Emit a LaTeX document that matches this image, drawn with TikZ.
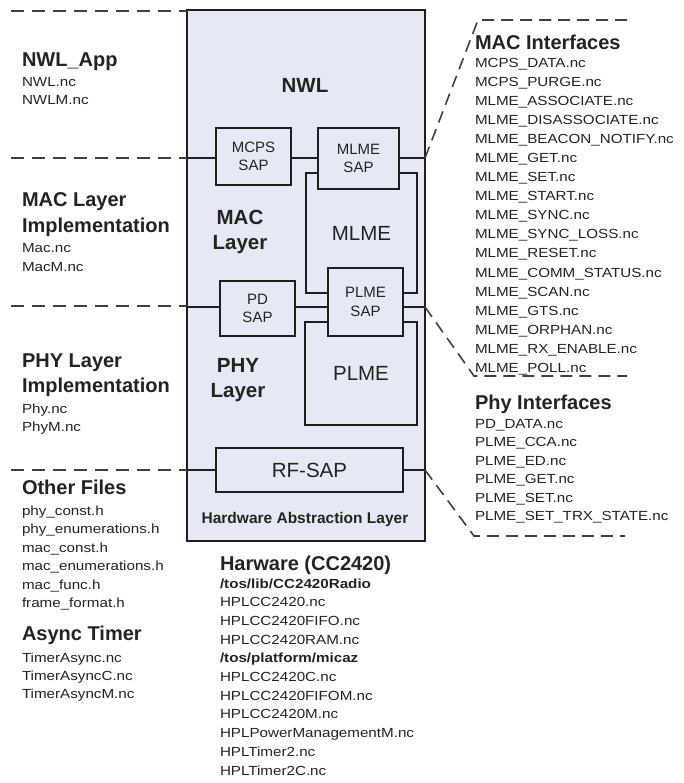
\documentclass[tikz,border=0pt]{standalone}
\usepackage{fontspec}
\setmainfont{Liberation Sans}
\newfontfamily\listfont[FakeStretch=1.15]{Liberation Sans}
\definecolor{boxfill}{RGB}{228,233,244}
\definecolor{ink}{RGB}{30,30,30}
\definecolor{txt}{RGB}{35,35,35}
\begin{document}
\begin{tikzpicture}[x=1pt,y=-1pt,
  every node/.style={inner sep=0pt, outer sep=0pt, text=txt},
  mainbox/.style={draw=ink, line width=2.2pt, fill=boxfill},
  inbox/.style={draw=ink, line width=1.5pt, fill=boxfill, align=center},
  sapfont/.style={font=\fontsize{15}{18.5}\selectfont},
  bigfont/.style={font=\fontsize{20.5}{25}\selectfont},
  bigbold/.style={font=\bfseries\fontsize{20.5}{25}\selectfont, align=center},
  hd/.style={anchor=base west, font=\bfseries\fontsize{20}{24}\selectfont},
  fl/.style={anchor=base west, font=\listfont\fontsize{13.2}{16}\selectfont},
  flb/.style={anchor=base west, font=\listfont\bfseries\fontsize{13.2}{16}\selectfont},
  sepline/.style={draw=ink!85, line width=2pt, dash pattern=on 13pt off 8pt},
  brk/.style={draw=ink!85, line width=1.6pt, dash pattern=on 12pt off 7pt},
  link/.style={draw=ink, line width=2pt}]

\useasboundingbox (0,0) rectangle (683,783);

% row coordinates
\coordinate (r1) at (0,158);
\coordinate (r2) at (0,307);
\coordinate (r3) at (0,470);
\coordinate (d0) at (11,11);
\coordinate (d1) at (11,158);
\coordinate (d2) at (11,306);
\coordinate (d3) at (11,470);
\coordinate (b1) at (478,20);
\coordinate (b1e) at (630,20);
\coordinate (b2) at (474,376);
\coordinate (b2e) at (627,376);
\coordinate (b3) at (474,536);
\coordinate (b3e) at (625,536);

% main box
\node[mainbox, minimum width=238pt, minimum height=531pt] (main) at (306,275.5) {};

% left dashed separators
\draw[sepline] (d0) -- (main.west |- d0);
\draw[sepline] (d1) -- (main.west |- d1);
\draw[sepline] (d2) -- (main.west |- d2);
\draw[sepline] (d3) -- (main.west |- d3);

% inner boxes
\node[inbox, bigfont, minimum width=111pt, minimum height=120pt] (mlme) at (361.5,233) {MLME};
\node[inbox, bigfont, minimum width=112pt, minimum height=103pt] (plme) at (361,373.5) {PLME};
\node[inbox, sapfont, minimum width=75pt, minimum height=57pt] (mcps) at (253.5,156.5) {MCPS\\SAP};
\node[inbox, sapfont, minimum width=81pt, minimum height=61pt] (mlmesap) at (358.5,158.5) {MLME\\SAP};
\node[inbox, sapfont, minimum width=75pt, minimum height=55pt] (pd) at (257.5,308.5) {PD\\SAP};
\node[inbox, sapfont, minimum width=75pt, minimum height=68pt] (plmesap) at (365.5,302) {PLME\\SAP};
\node[inbox, bigfont, minimum width=187pt, minimum height=44pt] (rf) at (309.5,470) {RF-SAP};

% solid links
\draw[link] (main.west |- r1) -- (mcps.west |- r1);
\draw[link] (mcps.east |- r1) -- (mlmesap.west |- r1);
\draw[link] (mlmesap.east |- r1) -- (main.east |- r1);
\draw[link] (main.west |- r2) -- (pd.west |- r2);
\draw[link] (pd.east |- r2) -- (plmesap.west |- r2);
\draw[link] (plmesap.east |- r2) -- (main.east |- r2);
\draw[link] (main.west |- r3) -- (rf.west |- r3);
\draw[link] (rf.east |- r3) -- (main.east |- r3);

% right brackets
\draw[brk] (main.east |- r1) -- (b1) -- (b1e);
\draw[brk] (main.east |- r2) -- (b2) -- (b2e);
\draw[brk] (main.east |- r3) -- (b3) -- (b3e);

% central labels
\node[bigbold] (nwl) at (305,85) {NWL};
\node[bigbold] (maclayer) at (240,232) {MAC\\Layer};
\node[bigbold] (phylayer) at (238,380) {PHY\\Layer};
\node[font=\bfseries\fontsize{15.5}{18}\selectfont] (hal) at (305,519) {Hardware Abstraction Layer};

% left column
\node[hd] (h1) at (22,67) {NWL\_App};
\node[fl] (h1a) at (22,87) {NWL.nc};
\node[fl] (h1b) at (22,105) {NWLM.nc};

\node[hd] (h2) at (22,207) {MAC Layer};
\node[hd] (h2x) at (22,233) {Implementation};
\node[fl] (h2a) at (22,253) {Mac.nc};
\node[fl] (h2b) at (22,272) {MacM.nc};

\node[hd] (h3) at (22,367) {PHY Layer};
\node[hd] (h3x) at (22,392) {Implementation};
\node[fl] (h3a) at (22,413) {Phy.nc};
\node[fl] (h3b) at (22,431) {PhyM.nc};

\node[hd] (h4) at (22,494) {Other Files};
\foreach \t [count=\i from 0] in {phy\_const.h, phy\_enumerations.h, mac\_const.h, mac\_enumerations.h, mac\_func.h, frame\_format.h}
  \node[fl] (of\i) at (22,515+18.5*\i) {\t};

\node[hd] (h5) at (22,640) {Async Timer};
\foreach \t [count=\i from 0] in {TimerAsync.nc, TimerAsyncC.nc, TimerAsyncM.nc}
  \node[fl] (ta\i) at (22,662+18*\i) {\t};

% right column
\node[hd] (h6) at (475,50) {MAC Interfaces};
\foreach \t [count=\i from 0] in {MCPS\_DATA.nc, MCPS\_PURGE.nc, MLME\_ASSOCIATE.nc, MLME\_DISASSOCIATE.nc, MLME\_BEACON\_NOTIFY.nc, MLME\_GET.nc, MLME\_SET.nc, MLME\_START.nc, MLME\_SYNC.nc, MLME\_SYNC\_LOSS.nc, MLME\_RESET.nc, MLME\_COMM\_STATUS.nc, MLME\_SCAN.nc, MLME\_GTS.nc, MLME\_ORPHAN.nc, MLME\_RX\_ENABLE.nc, MLME\_POLL.nc}
  \node[fl] (mi\i) at (475,68+19*\i) {\t};

\node[hd] (h7) at (475,409) {Phy Interfaces};
\foreach \t [count=\i from 0] in {PD\_DATA.nc, PLME\_CCA.nc, PLME\_ED.nc, PLME\_GET.nc, PLME\_SET.nc, PLME\_SET\_TRX\_STATE.nc}
  \node[fl] (pi\i) at (475,428+18.5*\i) {\t};

% hardware column
\node[hd] (h8) at (220,570) {Harware (CC2420)};
\node[flb] (hw0) at (220,588) {/tos/lib/CC2420Radio};
\node[fl] (hw1) at (220,606.7) {HPLCC2420.nc};
\node[fl] (hw2) at (220,625.4) {HPLCC2420FIFO.nc};
\node[fl] (hw3) at (220,644.1) {HPLCC2420RAM.nc};
\node[flb] (hw4) at (220,662.8) {/tos/platform/micaz};
\node[fl] (hw5) at (220,681.5) {HPLCC2420C.nc};
\node[fl] (hw6) at (220,700.2) {HPLCC2420FIFOM.nc};
\node[fl] (hw7) at (220,718.9) {HPLCC2420M.nc};
\node[fl] (hw8) at (220,737.6) {HPLPowerManagementM.nc};
\node[fl] (hw9) at (220,756.3) {HPLTimer2.nc};
\node[fl] (hw10) at (220,775) {HPLTimer2C.nc};
\end{tikzpicture}
\end{document}
